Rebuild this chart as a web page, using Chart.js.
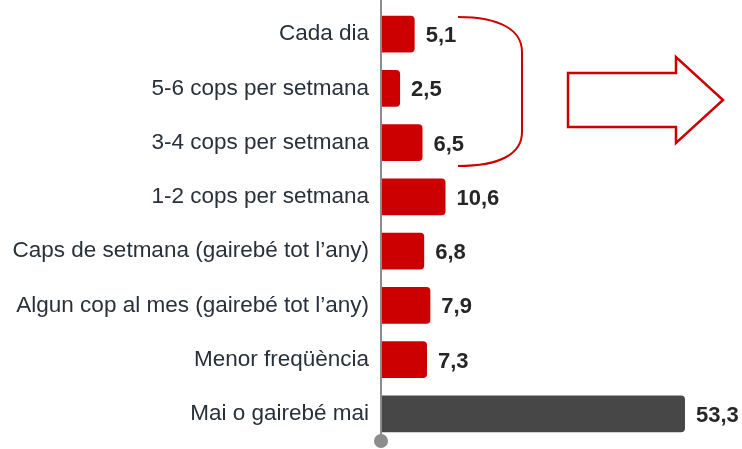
<!DOCTYPE html>
<html>
<head>
<meta charset="utf-8">
<script src="https://cdn.jsdelivr.net/npm/chart.js@4"></script>
<style>
  html, body { margin: 0; padding: 0; background: #fff; overflow: hidden; }
</style>
</head>
<body>
<canvas id="barChart" width="742" height="449"></canvas>
<script>
const categories = [
  "Cada dia",
  "5-6 cops per setmana",
  "3-4 cops per setmana",
  "1-2 cops per setmana",
  "Caps de setmana (gairebé tot l’any)",
  "Algun cop al mes (gairebé tot l’any)",
  "Menor freqüència",
  "Mai o gairebé mai",
];
const values = [5.1, 2.5, 6.5, 10.6, 6.8, 7.9, 7.3, 53.3];
const barColors = ["#cc0000", "#cc0000", "#cc0000", "#cc0000", "#cc0000", "#cc0000", "#cc0000", "#474747"];

const ctx = document.getElementById("barChart");

// value labels, axis line + dot, bracket and arrow
const extras = {
  id: "extras",
  afterDatasetsDraw(chart) {
    const c = chart.ctx;
    const area = chart.chartArea;
    const meta = chart.getDatasetMeta(0);

    c.save();
    c.font = "bold 22px 'Liberation Sans', Arial, sans-serif";
    c.fillStyle = "#262626";
    c.textAlign = "left";
    c.textBaseline = "middle";
    meta.data.forEach((bar, i) => {
      c.fillText(values[i].toFixed(1).replace(".", ","), bar.x + 11, bar.y + 2);
    });

    // axis line
    c.strokeStyle = "#8c8c8c";
    c.lineWidth = 2;
    c.beginPath();
    c.moveTo(area.left, 0);
    c.lineTo(area.left, area.bottom);
    c.stroke();
    c.fillStyle = "#8c8c8c";
    c.beginPath();
    c.arc(area.left, area.bottom, 7, 0, Math.PI * 2);
    c.fill();

    // bracket
    c.strokeStyle = "#cc0000";
    c.lineWidth = 2;
    c.beginPath();
    c.moveTo(458, 17);
    c.bezierCurveTo(500, 17, 522, 30, 522, 52);
    c.lineTo(522, 132);
    c.bezierCurveTo(522, 154, 500, 166, 458, 166);
    c.stroke();

    // arrow
    c.lineWidth = 2.5;
    c.beginPath();
    c.moveTo(568, 73);
    c.lineTo(676, 73);
    c.lineTo(676, 57);
    c.lineTo(723, 100);
    c.lineTo(676, 143);
    c.lineTo(676, 127);
    c.lineTo(568, 127);
    c.closePath();
    c.stroke();
    c.restore();
  },
};

new Chart(ctx, {
  type: "bar",
  data: {
    labels: categories,
    datasets: [
      {
        data: values,
        base: -0.9,
        backgroundColor: barColors,
        borderRadius: 4,
        borderSkipped: "start",
        barPercentage: 0.68,
        categoryPercentage: 1,
      },
    ],
  },
  options: {
    indexAxis: "y",
    responsive: false,
    animation: false,
    layout: { padding: { top: 7, bottom: 8, right: 20, left: 0 } },
    plugins: {
      legend: { display: false },
      tooltip: { enabled: false },
    },
    scales: {
      x: {
        display: false,
        min: -0.9,
        max: 59.9,
      },
      y: {
        afterFit: (scale) => {
          scale.width = 381;
          scale.paddingTop = 0;
          scale.paddingBottom = 0;
        },
        grid: { display: false, drawTicks: false },
        border: { display: false },
        ticks: {
          padding: 12,
          color: "#28303a",
          font: { family: "'Liberation Sans', Arial, sans-serif", size: 22.5 },
        },
      },
    },
  },
  plugins: [extras],
});
</script>
</body>
</html>
